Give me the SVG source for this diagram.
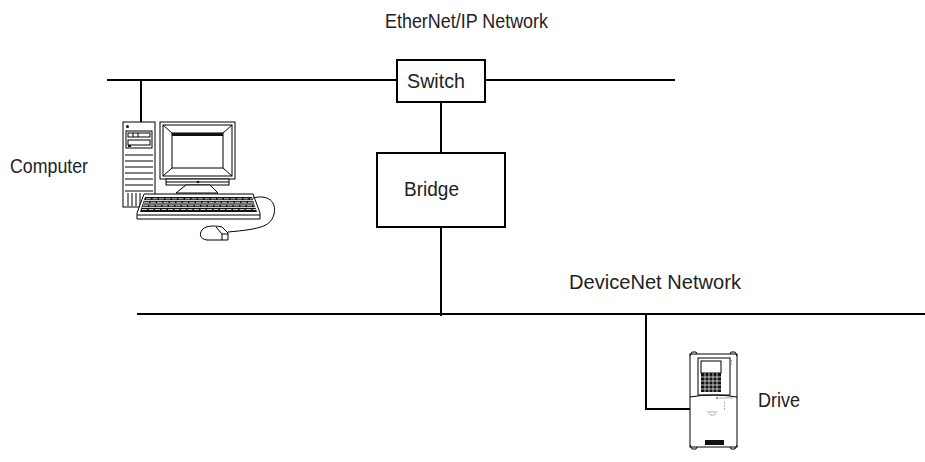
<svg xmlns="http://www.w3.org/2000/svg" width="925" height="462" viewBox="0 0 925 462">
  <style>
    .lbl { font-family: "Liberation Sans Narrow", "Liberation Sans", Arial, sans-serif; font-size: 20px; fill: #222; }
    .wire { stroke: #000; stroke-width: 2; fill: none; }
    .box { fill: #fff; stroke: #000; stroke-width: 2; }
    .ln { stroke: #000; stroke-width: 1; fill: none; }
    .fillw { fill: #fff; stroke: #000; stroke-width: 1; }
    .dark { fill: #111; }
  </style>

  <!-- network trunks and drops -->
  <g id="connectors">
    <line class="wire" x1="107" y1="80" x2="397" y2="80"/>
    <line class="wire" x1="485" y1="80" x2="675" y2="80"/>
    <line class="wire" x1="141" y1="80" x2="141" y2="122"/>
    <line class="wire" x1="441" y1="102" x2="441" y2="153"/>
    <line class="wire" x1="441" y1="227" x2="441" y2="316"/>
    <line class="wire" x1="137" y1="314" x2="925" y2="314"/>
    <polyline class="wire" points="646,314 646,409 690,409"/>
  </g>

  <g id="ethernet-label">
    <text class="lbl" x="385" y="28" textLength="163" lengthAdjust="spacingAndGlyphs">EtherNet/IP Network</text>
  </g>

  <g id="switch">
    <rect class="box" x="397" y="60" width="88" height="42"/>
    <text class="lbl" x="407" y="88" textLength="58" lengthAdjust="spacingAndGlyphs">Switch</text>
  </g>

  <g id="bridge">
    <rect class="box" x="377" y="153" width="128" height="74"/>
    <text class="lbl" x="404" y="196" textLength="55" lengthAdjust="spacingAndGlyphs">Bridge</text>
  </g>

  <g id="devicenet-label">
    <text class="lbl" x="569" y="289" textLength="172" lengthAdjust="spacingAndGlyphs">DeviceNet Network</text>
  </g>

  <g id="computer">
    <!-- tower -->
    <rect class="fillw" x="123" y="122" width="32" height="85" stroke-width="1.5"/>
    <circle cx="127.5" cy="126.5" r="1.5" class="dark"/>
    <rect class="fillw" x="126" y="131" width="26" height="17"/>
    <rect class="fillw" x="128" y="133" width="22" height="4"/>
    <line class="ln" x1="133" y1="133" x2="133" y2="137"/>
    <line class="ln" x1="138" y1="133" x2="138" y2="137"/>
    <rect class="fillw" x="128" y="140" width="22" height="5"/>
    <rect x="128" y="145" width="3" height="2" class="dark"/>
    <g class="ln">
      <line x1="125" y1="155" x2="153" y2="155"/>
      <line x1="125" y1="161" x2="153" y2="161"/>
      <line x1="125" y1="167" x2="153" y2="167"/>
      <line x1="125" y1="173" x2="153" y2="173"/>
      <line x1="125" y1="179" x2="153" y2="179"/>
      <line x1="125" y1="185" x2="153" y2="185"/>
      <line x1="125" y1="191" x2="153" y2="191"/>
      <line x1="128" y1="193" x2="128" y2="206"/>
      <line x1="132" y1="193" x2="132" y2="206"/>
      <line x1="136" y1="193" x2="136" y2="206"/>
      <line x1="140" y1="193" x2="140" y2="206"/>
    </g>
    <!-- monitor -->
    <rect class="fillw" x="160" y="122" width="75" height="57" stroke-width="1.5"/>
    <rect class="fillw" x="163" y="125" width="69" height="51"/>
    <rect class="fillw" x="172" y="133" width="51" height="35"/>
    <rect x="172" y="133" width="51" height="3" class="dark"/>
    <line class="ln" x1="163" y1="125" x2="172" y2="133"/>
    <line class="ln" x1="232" y1="125" x2="223" y2="133"/>
    <line class="ln" x1="163" y1="176" x2="172" y2="168"/>
    <line class="ln" x1="232" y1="176" x2="223" y2="168"/>
    <rect class="fillw" x="166" y="179" width="63" height="6"/>
    <line class="ln" x1="166" y1="182" x2="229" y2="182"/>
    <circle cx="198" cy="182" r="1.3" class="dark"/>
    <path class="fillw" d="M186,185 L210,185 L218,193 L176,193 Z"/>
    <!-- keyboard -->
    <path class="fillw" d="M144,194 L253,194 L260,213 L260,219 L137,219 L137,213 Z" stroke-width="1.5"/>
    <path d="M145,197 L252,197 L257,212 L140,212 Z" class="dark"/>
    <g stroke="#fff" stroke-width="0.8">
      <line x1="144" y1="200.5" x2="254" y2="200.5"/>
      <line x1="143" y1="204" x2="255" y2="204"/>
      <line x1="142" y1="207.5" x2="256" y2="207.5"/>
    </g>
    <g stroke="#fff" stroke-width="0.8" stroke-dasharray="5 1.5">
      <line x1="146" y1="198.8" x2="252" y2="198.8"/>
      <line x1="144" y1="202.3" x2="254" y2="202.3"/>
      <line x1="143" y1="205.8" x2="255" y2="205.8"/>
      <line x1="142" y1="209.5" x2="256" y2="209.5"/>
    </g>
    <line class="ln" x1="137" y1="215" x2="260" y2="215"/>
    <!-- cable and mouse -->
    <path class="ln" d="M253,198 C268,194 277,202 274,214 C271,226 262,229 228,232"/>
    <path class="fillw" d="M202,230 C204,226 214,225 222,227 L228,233 L228,240 L207,240 C200,239 199,234 202,230 Z" stroke-width="1.3"/>
    <path class="ln" d="M216,227 L222,234 L228,234"/>
    <path class="ln" d="M222,234 L222,240"/>
  </g>

  <g id="computer-label">
    <text class="lbl" x="10" y="173" textLength="78" lengthAdjust="spacingAndGlyphs">Computer</text>
  </g>

  <g id="drive">
    <rect class="fillw" x="690" y="354" width="47" height="93" stroke-width="1.2"/>
    <path class="ln" d="M690,356 L692,352 L696,352 L697,354 M730,354 L731,352 L735,352 L737,356"/>
    <path class="ln" d="M690,445 L692,449 L696,449 L697,447 M730,447 L731,449 L735,449 L737,445"/>
    <rect class="fillw" x="698" y="358" width="32" height="37"/>
    <rect class="fillw" x="701" y="361" width="20" height="12"/>
    <rect x="701" y="373" width="20" height="19" class="dark"/>
    <g stroke="#fff" stroke-width="0.7">
      <line x1="701" y1="377" x2="721" y2="377"/>
      <line x1="701" y1="381" x2="721" y2="381"/>
      <line x1="701" y1="385" x2="721" y2="385"/>
      <line x1="701" y1="389" x2="721" y2="389"/>
      <line x1="705" y1="373" x2="705" y2="392"/>
      <line x1="709" y1="373" x2="709" y2="392"/>
      <line x1="713" y1="373" x2="713" y2="392"/>
      <line x1="717" y1="373" x2="717" y2="392"/>
    </g>
    <path class="ln" d="M690,397 Q713,393 737,397"/>
    <g fill="#999">
      <rect x="731" y="360" width="1" height="1.5"/>
      <rect x="731" y="363" width="1" height="1.5"/>
      <rect x="724" y="402" width="1" height="1.5"/>
      <rect x="724" y="405" width="1" height="1.5"/>
      <rect x="724" y="408" width="1" height="1.5"/>
    </g>
    <circle cx="717" cy="398" r="1" fill="#666"/>
    <line x1="719" y1="398" x2="733" y2="398" stroke="#aaa" stroke-width="1"/>
    <path d="M707,412 L717,412 M709,414 Q712,417 716,414" stroke="#999" stroke-width="0.8" fill="none"/>
    <rect x="705" y="440" width="19" height="5" class="dark"/>
  </g>

  <g id="drive-label">
    <text class="lbl" x="758" y="407" textLength="42" lengthAdjust="spacingAndGlyphs">Drive</text>
  </g>
</svg>
